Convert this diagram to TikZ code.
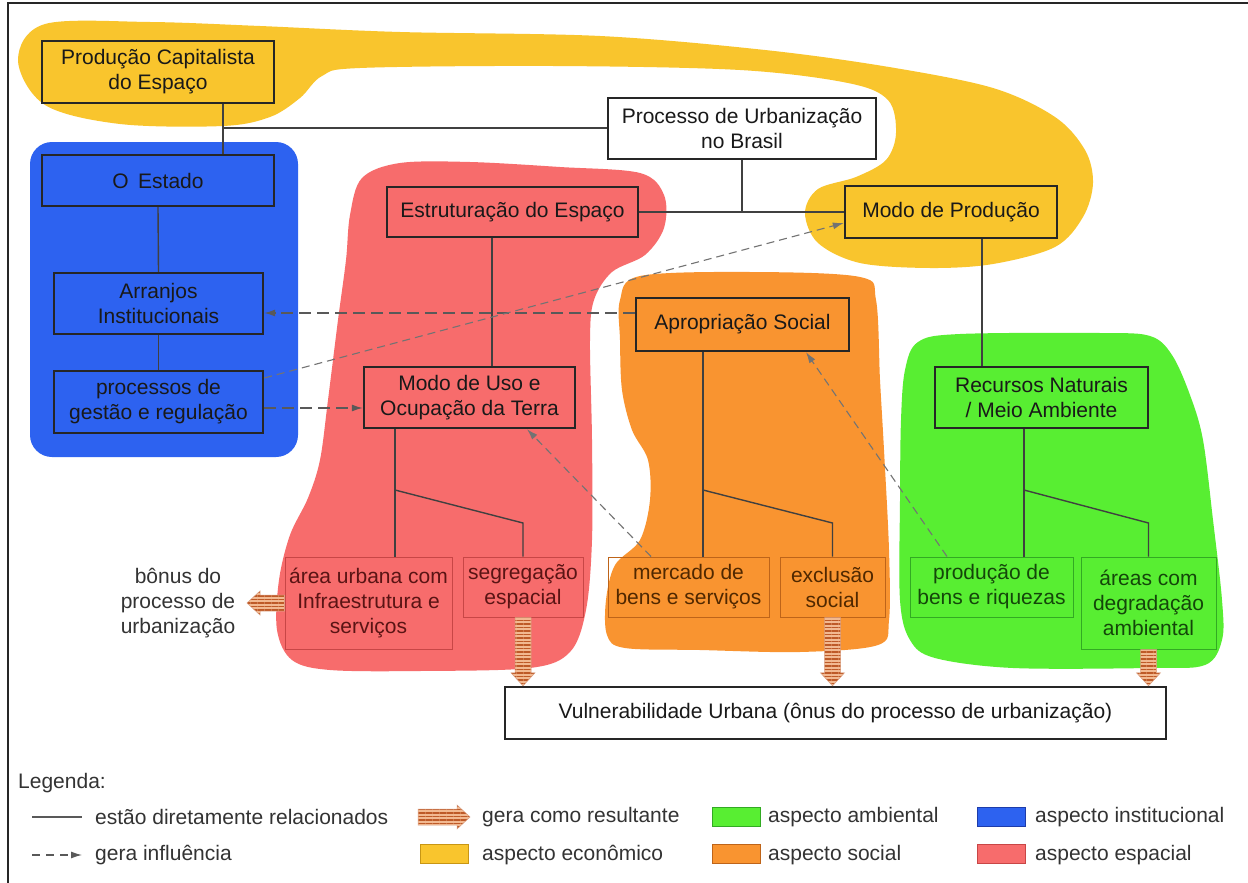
\documentclass[tikz,border=0pt]{standalone}
\usepackage{fontspec}
\setmainfont{Liberation Sans}
\usetikzlibrary{arrows.meta,calc,patterns.meta}
\definecolor{yel}{RGB}{249,197,45}
\definecolor{blu}{RGB}{45,98,240}
\definecolor{red}{RGB}{247,108,108}
\definecolor{ora}{RGB}{249,148,48}
\definecolor{grn}{RGB}{88,238,50}
\definecolor{yelB}{RGB}{200,150,20}
\definecolor{bluB}{RGB}{30,60,170}
\definecolor{redB}{RGB}{200,70,70}
\definecolor{oraB}{RGB}{190,100,25}
\definecolor{grnB}{RGB}{50,170,35}
\definecolor{redT}{RGB}{90,20,20}
\definecolor{oraT}{RGB}{80,40,0}
\definecolor{grnT}{RGB}{20,70,10}
\definecolor{stripefill}{RGB}{242,185,145}
\definecolor{stripedark}{RGB}{190,90,40}
\newcommand{\dfont}{\fontsize{21}{25}\selectfont}
\newcommand{\lfont}{\fontsize{21}{24}\selectfont}
\newcommand{\stripedarrowdown}[2]{%
  \path[stripe] let \p1=(#1), \p2=(#2) in
  (\x1-8pt,\y1) -- (\x1+8pt,\y1) -- (\x1+8pt,\y2+13pt) -- (\x1+12pt,\y2+13pt) --
  (\x1,\y2) -- (\x1-12pt,\y2+13pt) -- (\x1-8pt,\y2+13pt) -- cycle;}
\newcommand{\stripedarrowleft}[2]{%
  \path[stripe] let \p1=(#1), \p2=(#2) in
  (\x1,\y1+8pt) -- (\x1,\y1-8pt) -- (\x2+13pt,\y1-8pt) -- (\x2+13pt,\y1-12pt) --
  (\x2,\y1) -- (\x2+13pt,\y1+12pt) -- (\x2+13pt,\y1+8pt) -- cycle;}
\newcommand{\stripedarrowright}[2]{%
  \path[stripe] let \p1=(#1), \p2=(#2) in
  (\x1,\y1+8pt) -- (\x1,\y1-8pt) -- (\x2-13pt,\y1-8pt) -- (\x2-13pt,\y1-12pt) --
  (\x2,\y1) -- (\x2-13pt,\y1+12pt) -- (\x2-13pt,\y1+8pt) -- cycle;}
\begin{document}
\begin{tikzpicture}[x=1pt,y=-1pt,
  wh/.style 2 args={minimum width=#1pt,minimum height=#2pt},
  box/.style={draw=black!85, line width=2.4pt, align=center, inner sep=0pt, font=\dfont, text=black!90},
  sbox/.style={draw=#1, line width=1pt, align=center, inner sep=0pt, font=\dfont},
  rel/.style={draw=black!75, line width=1.4pt},
  infl/.style={draw=black!65, line width=1.2pt, dash pattern=on 12pt off 6pt, -{Latex[length=11pt,width=7pt]}},
  inflfine/.style={draw=black!55, line width=1.1pt, dash pattern=on 8pt off 5pt, -{Latex[length=11pt,width=7pt]}},
  stripe/.style={preaction={fill=stripefill}, pattern={Lines[angle=0,distance=3.5pt,line width=1.4pt]}, pattern color=stripedark, draw=stripedark!60, line width=0.5pt},
  swatch/.style={minimum width=48pt, minimum height=19pt, inner sep=0pt, line width=0.8pt},
  legtext/.style={font=\lfont, anchor=west, text=black!80, inner sep=0pt}
]
\useasboundingbox (0,0) rectangle (1248,883);
\fill[white] (0,0) rectangle (1248,883);

% ---------- regions ----------
\fill[yel] plot[smooth cycle, tension=0.55] coordinates {
  (18,60) (45,24) (150,22) (260,26) (400,32) (600,36) (765,50) (889,67) (993,88)
  (1055,117) (1085,150) (1093,183) (1083,217) (1055,247) (993,264) (930,268)
  (860,263) (818,243) (805,213) (818,189) (856,177) (886,160) (896,133) (888,100)
  (848,83) (740,70) (553,66) (360,68) (322,76) (300,98) (270,117) (223,126)
  (120,124) (45,105)};
\fill[blu, rounded corners=22pt] (30,142) rectangle (298,457);
\fill[red] plot[smooth cycle, tension=0.55] coordinates {
  (350,215) (362,178) (400,163) (470,162) (560,167) (640,173) (664,195) (664,228)
  (645,255) (612,272) (594,300) (590,340) (592,440) (592,540) (586,610) (570,652)
  (530,668) (420,671) (330,670) (292,660) (277,630) (279,580) (290,535) (308,498)
  (320,460) (328,400) (338,320) (346,260)};
\fill[ora] plot[smooth cycle, tension=0.55] coordinates {
  (620,300) (640,276) (750,272) (860,277) (876,300) (880,380) (884,450) (889,550)
  (889,620) (878,645) (800,652) (700,650) (625,648) (607,635) (606,600) (615,565)
  (640,540) (650,500) (648,460) (632,430) (622,390) (620,340)};
\fill[grn] plot[smooth cycle, tension=0.55] coordinates {
  (905,370) (918,342) (960,334) (1100,333) (1150,336) (1172,355) (1190,395)
  (1203,440) (1213,520) (1222,600) (1222,640) (1205,665) (1150,668) (1013,668)
  (935,658) (910,640) (900,600) (900,500) (901,420)};

% ---------- frame ----------
\draw[line width=2.5pt, black!85] (8,883) -- (8,3) -- (1248,3);

% ---------- boxes ----------
\node[box, wh={232}{62}] (prod) at (158,72) {Produção Capitalista\\do Espaço};
\node[box, wh={268}{61}, fill=white] (proc) at (742,128.5) {Processo de Urbanização\\no Brasil};
\node[box, wh={232}{51}] (estado) at (158,180.5) {O\hspace{0.45em}Estado};
\node[box, wh={209}{61}] (arranjos) at (158.5,303.5) {Arranjos\\Institucionais};
\node[box, wh={209}{62}] (gestao) at (158.5,402) {processos de\\gestão e regulação};
\node[box, wh={251}{50}] (estrut) at (512.5,212) {Estruturação do Espaço};
\node[box, wh={212}{52}] (modoprod) at (951,212) {Modo de Produção};
\node[box, wh={211}{61}] (uso) at (469.5,397.5) {Modo de Uso e\\Ocupação da Terra};
\node[box, wh={213}{53}] (aprop) at (742.5,324.5) {Apropriação Social};
\node[box, wh={213}{61}] (recursos) at (1041.5,397.5) {Recursos Naturais\\/ Meio Ambiente};
\node[sbox=redB, text=redT, wh={167}{92}] (area) at (368.5,603) {área urbana com\\Infraestrutura e\\serviços};
\node[sbox=redB, text=redT, wh={120}{60}] (segreg) at (523,587) {segregação\\espacial};
\node[sbox=oraB, text=oraT, wh={161}{60}] (mercado) at (688.5,587) {mercado de\\bens e serviços};
\node[sbox=oraB, text=oraT, wh={105}{60}] (exclusao) at (832.5,587) {exclusão\\social};
\node[sbox=grnB, text=grnT, wh={163}{60}] (producao) at (991.5,587) {produção de\\bens e riquezas};
\node[sbox=grnB, text=grnT, wh={135}{92}] (areas) at (1148.5,603) {áreas com\\degradação\\ambiental};
\node[box, wh={661}{52}, fill=white] (vuln) at (835.5,713) {Vulnerabilidade Urbana (ônus do processo de urbanização)};
\node[align=center, font=\dfont, text=black!80, inner sep=0pt] (bonus) at (178,603) {bônus do\\processo de\\urbanização};

% ---------- solid relations ----------
\coordinate (j1) at (223,128);
\draw[rel] (prod.south -| j1) -- (estado.north -| j1);
\draw[rel] (j1) -- (proc.west |- j1);
\draw[rel] (estado.south) -- (arranjos.north);
\draw[rel] (arranjos.south) -- (gestao.north);
\draw[rel] (estrut.east) -- (modoprod.west);
\draw[rel] (proc.south) -- (proc.south |- estrut.east);
\draw[rel] (estrut.south -| 492,0) -- (uso.north -| 492,0);
\coordinate (b1) at (395,490);
\draw[rel] (uso.south -| b1) -- (area.north -| b1);
\draw[rel] (b1) -- (segreg.north |- 0,523) -- (segreg.north);
\coordinate (b2) at (703,490);
\draw[rel] (aprop.south -| b2) -- (mercado.north -| b2);
\draw[rel] (b2) -- (exclusao.north |- 0,523) -- (exclusao.north);
\draw[rel] (modoprod.south -| 982,0) -- (recursos.north -| 982,0);
\coordinate (b3) at (1024,490);
\draw[rel] (recursos.south -| b3) -- (producao.north -| b3);
\draw[rel] (b3) -- (areas.north |- 0,523) -- (areas.north);

% ---------- influence (dashed) ----------
\draw[infl] (aprop.west |- 0,313) -- (arranjos.east |- 0,313);
\draw[infl] (gestao.east |- 0,408) -- (uso.west |- 0,408);
\draw[inflfine] (gestao.east |- 0,378) -- (modoprod.west |- 0,223);
\draw[inflfine] (mercado.north -| 651,0) -- (uso.south -| 527,0);
\draw[inflfine] (producao.north -| 947,0) -- (aprop.south -| 806,0);

% ---------- resulting (striped) ----------
\coordinate (btip) at (247,603);
\stripedarrowleft{area.west}{btip}
\stripedarrowdown{segreg.south}{vuln.north -| segreg.south}
\stripedarrowdown{exclusao.south}{vuln.north -| exclusao.south}
\stripedarrowdown{areas.south}{vuln.north -| areas.south}

% ---------- legend ----------
\node[legtext] (leg) at (18,783) {Legenda:};
\coordinate (ls1) at (32,817); \coordinate (le1) at (82,817);
\draw[draw=black!65, line width=1.4pt] (ls1) -- (le1);
\node[legtext] (lt1) at (95,817) {estão diretamente relacionados};
\coordinate (ls2) at (32,855); \coordinate (le2) at (82,855);
\draw[draw=black!65, line width=1.2pt, dash pattern=on 8pt off 6pt, -{Latex[length=11pt,width=7pt]}] (ls2) -- (le2);
\node[legtext] (lt2) at (95,855) {gera influência};
\coordinate (ls3) at (418,817); \coordinate (le3) at (470,817);
\stripedarrowright{ls3}{le3}
\node[legtext] (lt3) at (482,817) {gera como resultante};
\node[swatch, fill=yel, draw=yelB] (sw1) at (444,854) {};
\node[legtext] (lt4) at (482,855) {aspecto econômico};
\node[swatch, fill=grn, draw=grnB] (sw2) at (736.5,817) {};
\node[legtext] (lt5) at (768,817) {aspecto ambiental};
\node[swatch, fill=ora, draw=oraB] (sw3) at (736.5,854) {};
\node[legtext] (lt6) at (768,855) {aspecto social};
\node[swatch, fill=blu, draw=bluB] (sw4) at (1001,817) {};
\node[legtext] (lt7) at (1035,817) {aspecto institucional};
\node[swatch, fill=red, draw=redB] (sw5) at (1001,854) {};
\node[legtext] (lt8) at (1035,855) {aspecto espacial};
\end{tikzpicture}
\end{document}
